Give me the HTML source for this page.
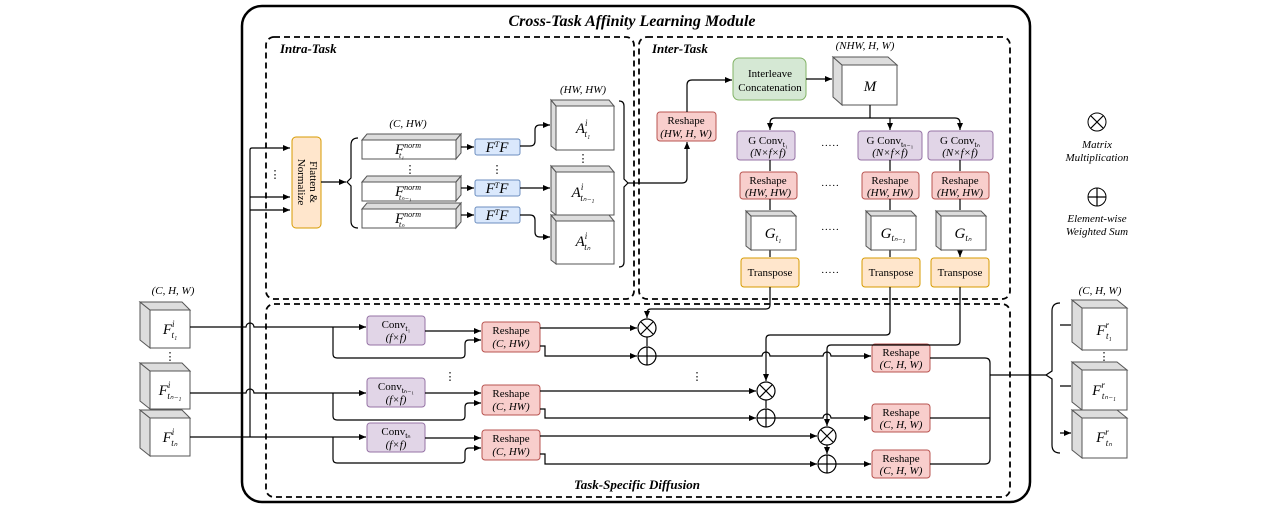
<!DOCTYPE html>
<html><head><meta charset="utf-8"><style>
body{margin:0;background:#fff}
svg{display:block;font-family:"Liberation Serif",serif}
.t{font-size:11px;text-anchor:middle}
.i{font-style:italic}
.m{font-size:15px;font-style:italic;text-anchor:middle}
.l{stroke:#000;stroke-width:1.2;fill:none}
.red{fill:#f8cecc;stroke:#b85450}
.pur{fill:#e1d5e7;stroke:#9673a6}
.org{fill:#ffe6cc;stroke:#d79b00}
.blu{fill:#dae8fc;stroke:#6c8ebf}
.grn{fill:#d5e8d4;stroke:#82b366}
.cf{fill:#fff;stroke:#555}
.cs{fill:#ddd;stroke:#555}
</style></head><body>
<svg width="1280" height="512" viewBox="0 0 1280 512">
<defs><marker id="a" markerWidth="8" markerHeight="8" refX="7" refY="4" orient="auto" markerUnits="userSpaceOnUse"><path d="M0,1 L7,4 L0,7z" fill="#000"/></marker></defs>

<rect x="242" y="6" width="788" height="496" rx="20" fill="none" stroke="#000" stroke-width="2.5"/>
<text x="632" y="26" font-size="16" font-weight="bold" font-style="italic" text-anchor="middle">Cross-Task Affinity Learning Module</text>
<g fill="none" stroke="#000" stroke-width="1.8" stroke-dasharray="6,4">
<rect x="266" y="37" width="368" height="262" rx="8"/>
<rect x="639" y="37" width="371" height="262" rx="8"/>
<rect x="266" y="304" width="744" height="193" rx="8"/>
</g>
<text x="280" y="53" font-size="13" font-weight="bold" font-style="italic">Intra-Task</text>
<text x="652" y="53" font-size="13" font-weight="bold" font-style="italic">Inter-Task</text>
<text x="637" y="489" font-size="13" font-weight="bold" font-style="italic" text-anchor="middle">Task-Specific Diffusion</text>

<!-- input cubes -->
<text x="173" y="294" class="t i">(C, H, W)</text>
<g>
<polygon class="cs" points="140,302 150,310 150,348 140,340"/><polygon class="cs" points="140,302 182,302 190,310 150,310"/><rect class="cf" x="150" y="310" width="40" height="38"/>
<polygon class="cs" points="140,363 150,371 150,409 140,401"/><polygon class="cs" points="140,363 182,363 190,371 150,371"/><rect class="cf" x="150" y="371" width="40" height="38"/>
<polygon class="cs" points="140,410 150,418 150,456 140,448"/><polygon class="cs" points="140,410 182,410 190,418 150,418"/><rect class="cf" x="150" y="418" width="40" height="38"/>
</g>
<text x="170" y="334" class="m">F<tspan font-size="9" dy="-7">i</tspan><tspan font-size="9" dy="11" dx="-3">t₁</tspan></text>
<text x="170" y="395" class="m">F<tspan font-size="9" dy="-7">i</tspan><tspan font-size="9" dy="11" dx="-3">tₙ₋₁</tspan></text>
<text x="170" y="442" class="m">F<tspan font-size="9" dy="-7">i</tspan><tspan font-size="9" dy="11" dx="-3">tₙ</tspan></text>
<text x="170" y="360" class="t">⋮</text>

<!-- output cubes -->
<text x="1100" y="294" class="t i">(C, H, W)</text>
<polygon class="cs" points="1072,300 1082,308 1082,350 1072,342"/><polygon class="cs" points="1072,300 1117,300 1127,308 1082,308"/><rect class="cf" x="1082" y="308" width="45" height="42"/>
<polygon class="cs" points="1072,362 1082,370 1082,410 1072,402"/><polygon class="cs" points="1072,362 1117,362 1127,370 1082,370"/><rect class="cf" x="1082" y="370" width="45" height="40"/>
<polygon class="cs" points="1072,410 1082,418 1082,458 1072,450"/><polygon class="cs" points="1072,410 1117,410 1127,418 1082,418"/><rect class="cf" x="1082" y="418" width="45" height="40"/>
<text x="1104" y="335" class="m">F<tspan font-size="9" dy="-7">r</tspan><tspan font-size="9" dy="11" dx="-3">t₁</tspan></text>
<text x="1104" y="395" class="m">F<tspan font-size="9" dy="-7">r</tspan><tspan font-size="9" dy="11" dx="-3">tₙ₋₁</tspan></text>
<text x="1104" y="442" class="m">F<tspan font-size="9" dy="-7">r</tspan><tspan font-size="9" dy="11" dx="-3">tₙ</tspan></text>
<text x="1104" y="360" class="t">⋮</text>

<!-- legend -->
<circle cx="1097" cy="122" r="9" fill="none" stroke="#000"/><path class="l" d="M1091,116 L1103,128 M1103,116 L1091,128"/>
<text x="1097" y="148" class="t i" font-size="10">Matrix</text><text x="1097" y="161" class="t i" font-size="10">Multiplication</text>
<circle cx="1097" cy="197" r="9" fill="none" stroke="#000"/><path class="l" d="M1088,197 H1106 M1097,188 V206"/>
<text x="1097" y="222" class="t i" font-size="10">Element-wise</text><text x="1097" y="235" class="t i" font-size="10">Weighted Sum</text>

<!-- Flatten -->
<rect class="org" x="292" y="137" width="29" height="91" rx="4"/>
<text transform="translate(310,182) rotate(90)" class="t">Flatten &amp;</text>
<text transform="translate(298,182) rotate(90)" class="t">Normalize</text>
<path class="l" d="M250,437 V150 Q250,148 252,148 H290" marker-end="url(#a)"/>
<path class="l" d="M250,197 H290" marker-end="url(#a)"/>
<path class="l" d="M250,210 H290" marker-end="url(#a)"/>
<text x="275" y="178" class="t">⋮</text>
<path class="l" d="M321,182 H346" marker-end="url(#a)"/>
<path class="l" d="M358,138 Q351,138 351,145 V178 L347,182 L351,186 V221 Q351,228 358,228"/>

<!-- Fnorm slabs -->
<text x="408" y="127" class="t i">(C, HW)</text>
<g>
<polygon class="cs" points="362,140 367,134 461,134 456,140"/><polygon class="cs" points="456,140 461,134 461,153 456,159"/><rect class="cf" x="362" y="140" width="94" height="19"/>
<polygon class="cs" points="362,182 367,176 461,176 456,182"/><polygon class="cs" points="456,182 461,176 461,195 456,201"/><rect class="cf" x="362" y="182" width="94" height="19"/>
<polygon class="cs" points="362,209 367,203 461,203 456,209"/><polygon class="cs" points="456,209 461,203 461,222 456,228"/><rect class="cf" x="362" y="209" width="94" height="19"/>
</g>
<text x="408" y="154" class="m" font-size="13">F<tspan font-size="8" dy="-6">norm</tspan><tspan font-size="8" dy="10" dx="-22">t₁</tspan></text>
<text x="408" y="196" class="m" font-size="13">F<tspan font-size="8" dy="-6">norm</tspan><tspan font-size="8" dy="10" dx="-22">tₙ₋₁</tspan></text>
<text x="408" y="223" class="m" font-size="13">F<tspan font-size="8" dy="-6">norm</tspan><tspan font-size="8" dy="10" dx="-22">tₙ</tspan></text>
<text x="410" y="173" class="t">⋮</text><text x="497" y="173" class="t">⋮</text><text x="583" y="162" class="t">⋮</text>

<path class="l" d="M461,147 H474" marker-end="url(#a)"/>
<path class="l" d="M461,188 H474" marker-end="url(#a)"/>
<path class="l" d="M461,215 H474" marker-end="url(#a)"/>
<rect class="blu" x="475" y="139" width="45" height="16" rx="2"/><rect class="blu" x="475" y="180" width="45" height="16" rx="2"/><rect class="blu" x="475" y="207" width="45" height="16" rx="2"/>
<text x="497" y="152" class="m" font-size="13">F<tspan font-size="8" dy="-5">T</tspan><tspan dy="5">F</tspan></text>
<text x="497" y="193" class="m" font-size="13">F<tspan font-size="8" dy="-5">T</tspan><tspan dy="5">F</tspan></text>
<text x="497" y="220" class="m" font-size="13">F<tspan font-size="8" dy="-5">T</tspan><tspan dy="5">F</tspan></text>
<path class="l" d="M520,146 H530 Q535,146 535,141 V130 Q535,125 540,125 H550" marker-end="url(#a)"/>
<path class="l" d="M520,188 H550" marker-end="url(#a)"/>
<path class="l" d="M520,215 H530 Q535,215 535,220 V232 Q535,237 540,237 H550" marker-end="url(#a)"/>

<!-- A cubes -->
<text x="583" y="93" class="t i">(HW, HW)</text>
<polygon class="cs" points="551,100 556,106 556,150 551,146"/><polygon class="cs" points="551,100 609,100 614,106 556,106"/><rect class="cf" x="556" y="106" width="58" height="44"/>
<polygon class="cs" points="551,166 556,172 556,215 551,211"/><polygon class="cs" points="551,166 609,166 614,172 556,172"/><rect class="cf" x="556" y="172" width="58" height="43"/>
<polygon class="cs" points="551,215 556,221 556,264 551,260"/><polygon class="cs" points="551,215 609,215 614,221 556,221"/><rect class="cf" x="556" y="221" width="58" height="43"/>
<text x="583" y="133" class="m">A<tspan font-size="9" dy="-7">i</tspan><tspan font-size="9" dy="11" dx="-3">t₁</tspan></text>
<text x="583" y="197" class="m">A<tspan font-size="9" dy="-7">i</tspan><tspan font-size="9" dy="11" dx="-3">tₙ₋₁</tspan></text>
<text x="583" y="246" class="m">A<tspan font-size="9" dy="-7">i</tspan><tspan font-size="9" dy="11" dx="-3">tₙ</tspan></text>
<path class="l" d="M619,101 Q624,101 624,106 V179 L628,183 L624,187 V262 Q624,267 619,267"/>
<path class="l" d="M628,183 H682 Q687,183 687,178 V142" marker-end="url(#a)"/>
<rect class="red" x="657" y="112" width="59" height="29" rx="3"/>
<text x="686" y="124" class="t">Reshape</text><text x="686" y="137" class="t i">(HW, H, W)</text>
<path class="l" d="M687,112 V85 Q687,80 692,80 H732" marker-end="url(#a)"/>
<rect class="grn" x="733" y="58" width="73" height="42" rx="6"/>
<text x="770" y="77" class="t">Interleave</text><text x="770" y="91" class="t">Concatenation</text>
<path class="l" d="M806,79 H832" marker-end="url(#a)"/>
<text x="865" y="49" class="t i" font-size="10">(NHW, H, W)</text>
<polygon class="cs" points="833,57 842,65 842,105 833,97"/><polygon class="cs" points="833,57 888,57 897,65 842,65"/><rect class="cf" x="842" y="65" width="55" height="40"/>
<text x="870" y="91" class="m">M</text>
<path class="l" d="M870,105 V118 M775,118 H955"/>
<path class="l" d="M775,118 Q770,118 770,123 V130" marker-end="url(#a)"/>
<path class="l" d="M890,118 V130" marker-end="url(#a)"/>
<path class="l" d="M955,118 Q960,118 960,123 V130" marker-end="url(#a)"/>

<!-- GConv columns -->
<g>
<rect class="pur" x="737" y="131" width="58" height="29" rx="3"/><rect class="pur" x="858" y="131" width="64" height="29" rx="3"/><rect class="pur" x="928" y="131" width="65" height="29" rx="3"/>
<rect class="red" x="740" y="172" width="57" height="27" rx="3"/><rect class="red" x="862" y="172" width="57" height="27" rx="3"/><rect class="red" x="932" y="172" width="57" height="27" rx="3"/>
<rect class="org" x="741" y="258" width="58" height="29" rx="3"/><rect class="org" x="862" y="258" width="58" height="29" rx="3"/><rect class="org" x="931" y="258" width="58" height="29" rx="3"/>
</g>
<text x="768" y="144" class="t">G Conv<tspan font-size="8" dy="3">t₁</tspan></text><text x="768" y="156" class="t i">(N×f×f)</text>
<text x="890" y="144" class="t">G Conv<tspan font-size="8" dy="3">tₙ₋₁</tspan></text><text x="890" y="156" class="t i">(N×f×f)</text>
<text x="960" y="144" class="t">G Conv<tspan font-size="8" dy="3">tₙ</tspan></text><text x="960" y="156" class="t i">(N×f×f)</text>
<text x="768" y="184" class="t">Reshape</text><text x="768" y="196" class="t i">(HW, HW)</text>
<text x="890" y="184" class="t">Reshape</text><text x="890" y="196" class="t i">(HW, HW)</text>
<text x="960" y="184" class="t">Reshape</text><text x="960" y="196" class="t i">(HW, HW)</text>
<text x="770" y="276" class="t">Transpose</text><text x="891" y="276" class="t">Transpose</text><text x="960" y="276" class="t">Transpose</text>
<path class="l" d="M770,160 V171 M890,160 V171 M960,160 V171 M770,199 V210 M890,199 V210 M960,199 V210 M770,250 V257 M890,250 V257 M960,250 V257" marker-end="url(#a)"/>
<g>
<polygon class="cs" points="746,211 751,216 751,250 746,246"/><polygon class="cs" points="746,211 791,211 796,216 751,216"/><rect class="cf" x="751" y="216" width="45" height="34"/>
<polygon class="cs" points="866,211 871,216 871,250 866,246"/><polygon class="cs" points="866,211 911,211 916,216 871,216"/><rect class="cf" x="871" y="216" width="45" height="34"/>
<polygon class="cs" points="936,211 941,216 941,250 936,246"/><polygon class="cs" points="936,211 981,211 986,216 941,216"/><rect class="cf" x="941" y="216" width="45" height="34"/>
</g>
<text x="773" y="238" class="m">G<tspan font-size="9" dy="3">t₁</tspan></text>
<text x="893" y="238" class="m">G<tspan font-size="9" dy="3">tₙ₋₁</tspan></text>
<text x="963" y="238" class="m">G<tspan font-size="9" dy="3">tₙ</tspan></text>
<g class="t" font-size="12"><text x="830" y="149">·····</text><text x="830" y="189">·····</text><text x="830" y="233">·····</text><text x="830" y="276">·····</text></g>

<!-- diffusion rows -->
<g>
<rect class="pur" x="367" y="316" width="58" height="29" rx="3"/><rect class="pur" x="367" y="378" width="58" height="29" rx="3"/><rect class="pur" x="367" y="423" width="58" height="29" rx="3"/>
<rect class="red" x="482" y="322" width="58" height="30" rx="3"/><rect class="red" x="482" y="385" width="58" height="30" rx="3"/><rect class="red" x="482" y="430" width="58" height="30" rx="3"/>
<rect class="red" x="872" y="344" width="58" height="28" rx="3"/><rect class="red" x="872" y="404" width="58" height="28" rx="3"/><rect class="red" x="872" y="450" width="58" height="28" rx="3"/>
</g>
<text x="396" y="328" class="t">Conv<tspan font-size="8" dy="3">t₁</tspan></text><text x="396" y="341" class="t i" font-size="10">(f×f)</text>
<text x="396" y="390" class="t">Conv<tspan font-size="8" dy="3">tₙ₋₁</tspan></text><text x="396" y="403" class="t i" font-size="10">(f×f)</text>
<text x="396" y="435" class="t">Conv<tspan font-size="8" dy="3">tₙ</tspan></text><text x="396" y="448" class="t i" font-size="10">(f×f)</text>
<text x="511" y="334" class="t">Reshape</text><text x="511" y="347" class="t i">(C, HW)</text>
<text x="511" y="397" class="t">Reshape</text><text x="511" y="410" class="t i">(C, HW)</text>
<text x="511" y="442" class="t">Reshape</text><text x="511" y="455" class="t i">(C, HW)</text>
<text x="901" y="356" class="t">Reshape</text><text x="901" y="368" class="t i">(C, H, W)</text>
<text x="901" y="416" class="t">Reshape</text><text x="901" y="428" class="t i">(C, H, W)</text>
<text x="901" y="462" class="t">Reshape</text><text x="901" y="474" class="t i">(C, H, W)</text>
<text x="450" y="380" class="t">⋮</text><text x="697" y="380" class="t">⋮</text>

<!-- row lines -->
<path class="l" d="M190,327 H246 A4,4 0 0 1 254,327 H366" marker-end="url(#a)"/>
<path class="l" d="M190,393 H246 A4,4 0 0 1 254,393 H366" marker-end="url(#a)"/>
<path class="l" d="M190,437 H366" marker-end="url(#a)"/>
<path class="l" d="M425,331 H481" marker-end="url(#a)"/>
<path class="l" d="M425,393 H481" marker-end="url(#a)"/>
<path class="l" d="M425,438 H481" marker-end="url(#a)"/>
<path class="l" d="M333,327 V354 Q333,358 337,358 H461 Q465,358 465,354 V344 Q465,340 469,340 H481" marker-end="url(#a)"/>
<path class="l" d="M333,393 V416 Q333,420 337,420 H461 Q465,420 465,416 V407 Q465,403 469,403 H481" marker-end="url(#a)"/>
<path class="l" d="M333,437 V459 Q333,463 337,463 H461 Q465,463 465,459 V452 Q465,448 469,448 H481" marker-end="url(#a)"/>
<path class="l" d="M540,328 H637" marker-end="url(#a)"/>
<path class="l" d="M540,391 H756" marker-end="url(#a)"/>
<path class="l" d="M540,436 H817" marker-end="url(#a)"/>
<path class="l" d="M540,346 H545 V356 H637" marker-end="url(#a)"/>
<path class="l" d="M540,409 H545 V418 H756" marker-end="url(#a)"/>
<path class="l" d="M540,454 H545 V464 H817" marker-end="url(#a)"/>
<g fill="#fff" stroke="#000" stroke-width="1.2">
<circle cx="647" cy="328" r="9"/><circle cx="647" cy="356" r="9"/>
<circle cx="766" cy="391" r="9"/><circle cx="766" cy="418" r="9"/>
<circle cx="827" cy="436" r="9"/><circle cx="827" cy="464" r="9"/>
</g>
<path class="l" d="M641,322 L653,334 M653,322 L641,334 M638,356 H656 M647,347 V365 M760,385 L772,397 M772,385 L760,397 M757,418 H775 M766,409 V427 M821,430 L833,442 M833,430 L821,442 M818,464 H836 M827,455 V473"/>
<path class="l" d="M647,337 V346 M766,400 V408 M827,445 V454" marker-end="url(#a)"/>
<path class="l" d="M770,287 V305 Q770,309 766,309 H651 Q647,309 647,313 V318" marker-end="url(#a)"/>
<path class="l" d="M890,287 V331 Q890,335 886,335 H770 Q766,335 766,339 V381" marker-end="url(#a)"/>
<path class="l" d="M960,287 V341 Q960,345 956,345 H831 Q827,345 827,349 V426" marker-end="url(#a)"/>
<path class="l" d="M656,356 H762 A4,4 0 0 1 770,356 H823 A4,4 0 0 1 831,356 H871" marker-end="url(#a)"/>
<path class="l" d="M775,418 H823 A4,4 0 0 1 831,418 H871" marker-end="url(#a)"/>
<path class="l" d="M836,464 H871" marker-end="url(#a)"/>
<path class="l" d="M930,358 H985 Q990,358 990,363 V459 Q990,464 985,464 H930 M930,418 H990 M990,375 H1046"/>
<path class="l" d="M1060,303 Q1052,303 1052,311 V371 L1046,375 L1052,379 V445 Q1052,453 1060,453"/>
<path class="l" d="M1060,325 H1071 M1060,386 H1071 M1060,433 H1071" marker-end="url(#a)"/>
</svg>
</body></html>
